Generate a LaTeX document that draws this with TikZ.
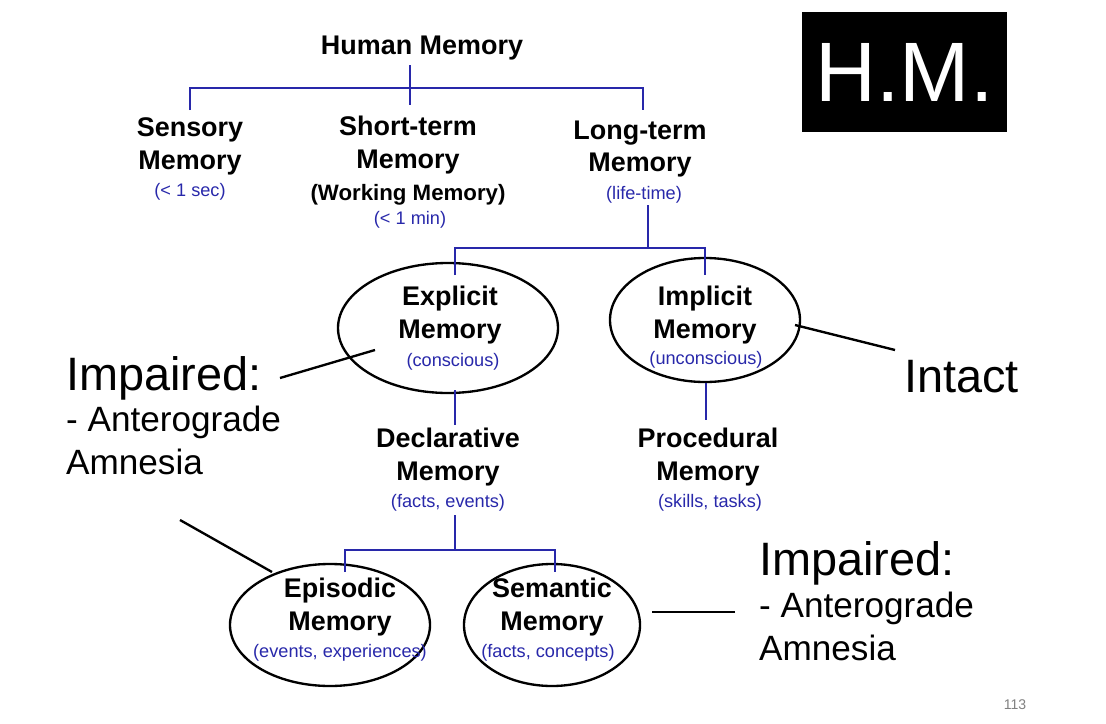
\documentclass[tikz,border=0pt]{standalone}
\usepackage{fontspec}
\usetikzlibrary{shapes.geometric}
\setmainfont{Liberation Sans}
\begin{document}
\begin{tikzpicture}[x=0.03cm,y=-0.03cm,
  tree/.style={draw=treeblue,line width=1.2pt},
  hd/.style={font=\fontsize{23}{28}\selectfont\bfseries,align=center},
  sub/.style={font=\fontsize{15.5}{17}\selectfont,text=treeblue},
  big/.style={font=\fontsize{40}{44}\selectfont,anchor=west},
  am/.style={font=\fontsize{30}{37}\selectfont,anchor=north west,align=left},
  ell/.style={draw=black,line width=2pt},
  pt/.style={line width=2pt}]
\definecolor{treeblue}{RGB}{40,40,170}
\useasboundingbox (0,0) rectangle (1106,724);
% top
\node[hd] (hm) at (422,48) {Human Memory};
\node[hd] (sens) at (190,146) {Sensory\\Memory};
\node[sub] (senst) at (190,192) {(< 1 sec)};
\node[hd] (short) at (408,145) {Short-term\\Memory};
\node[font=\fontsize{19}{20}\selectfont\bfseries] (work) at (408,195) {(Working Memory)};
\node[sub] (shortt) at (410,220) {(< 1 min)};
\node[hd] (long) at (640,149) {Long-term\\Memory};
\node[sub] (longt) at (644,195) {(life-time)};
\coordinate (j1) at (410,88);
\draw[tree] (410,65) -- (j1);
\draw[tree] (190,110) -- (190,88) -- (643,88) -- (643,110);
\draw[tree] (410,88) -- (410,105);
% level 2
\node[ell,ellipse,minimum width=220*0.03cm,minimum height=130*0.03cm] (expl) at (448,328) {};
\node[ell,ellipse,minimum width=190*0.03cm,minimum height=124*0.03cm] (impl) at (705,320) {};
\node[hd] at (450,315) {Explicit\\Memory};
\node[sub] at (453,362) {(conscious)};
\node[hd] at (705,315) {Implicit\\Memory};
\node[sub] at (706,360) {(unconscious)};
\draw[tree] (648,205) -- (648,248);
\draw[tree] (455,275) -- (455,248) -- (705,248) -- (705,275);
\node[hd] (decl) at (448,457) {Declarative\\Memory};
\node[sub] at (448,503) {(facts, events)};
\node[hd] (proc) at (708,457) {Procedural\\Memory};
\node[sub] at (710,503) {(skills, tasks)};
\draw[tree] (455,390) -- (455,425);
\draw[tree] (706,383) -- (706,420);
% level 3
\node[ell,ellipse,minimum width=200*0.03cm,minimum height=122*0.03cm] (epi) at (330,625) {};
\node[ell,ellipse,minimum width=176*0.03cm,minimum height=122*0.03cm] (sem) at (552,625) {};
\node[hd] at (340,607) {Episodic\\Memory};
\node[sub] at (340,653) {(events, experiences)};
\node[hd] at (552,607) {Semantic\\Memory};
\node[sub] at (548,653) {(facts, concepts)};
\draw[tree] (455,515) -- (455,550);
\draw[tree] (345,572) -- (345,550) -- (555,550) -- (555,572);
% annotations
\node[big] (imp1) at (62,378) {Impaired:};
\node[am] (am1) at (62,402) {- Anterograde\\Amnesia};
\node[big] (intact) at (900,377) {Intact};
\node[big] (imp2) at (755,563) {Impaired:};
\node[am] (am2) at (755,588) {- Anterograde\\Amnesia};
\coordinate (a1) at (375,350); \coordinate (a2) at (795,325);
\coordinate (a3) at (272,572); \coordinate (a4) at (652,612);
\draw[pt] (280,378) -- (a1);
\draw[pt] (895,350) -- (a2);
\draw[pt] (180,520) -- (a3);
\draw[pt] (735,612) -- (a4);
% H.M.
\node[fill=black,text=white,minimum width=205*0.03cm,minimum height=120*0.03cm,font=\fontsize{72}{74}\selectfont] (hmbox) at (904.5,72) {H.M.};
\node[text=gray,font=\fontsize{12}{13}\selectfont] (pg) at (1015,705) {113};
\end{tikzpicture}
\end{document}
